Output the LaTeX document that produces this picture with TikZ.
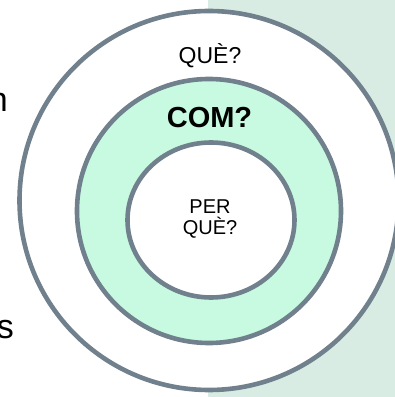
\documentclass[tikz,border=0pt]{standalone}
\usepackage{fontspec}
\setmainfont{Liberation Sans}
\definecolor{ringgray}{RGB}{112,128,140}
\definecolor{mint}{RGB}{200,250,226}
\definecolor{backg}{RGB}{217,236,228}
\begin{document}
\begin{tikzpicture}[x=1pt,y=1pt,
		ring/.style={draw=ringgray,line width=4.6pt},
		txt/.style={inner sep=0pt,anchor=base}]
		\useasboundingbox (0,0) rectangle (395,397);
		\clip (0,0) rectangle (395,397);
		% Hintergrund
		\fill[backg] (208,0) rectangle (395,397);
		% Ringe
		\draw[ring,fill=white] (209,196.5) circle (189.5);
		\draw[ring,fill=mint] (209,186) circle (132);
		\draw[ring,fill=white] (211,177) ellipse (83.5 and 77.5);
		% Beschriftung
		\node[txt,font=\fontsize{23}{23}\selectfont] (que) at (210,333) {QUÈ?};
		\node[txt,font=\fontsize{29}{29}\selectfont\bfseries] (com) at (209.5,269) {COM?};
		\node[inner sep=0pt,align=center,font=\fontsize{20}{21}\selectfont] (perque) at (210,178) {PER\\QUÈ?};
		% Reste links
		\node[txt,anchor=base east,font=\fontsize{34}{34}\selectfont] (restn) at (8,285) {n};
		\node[txt,anchor=base east,font=\fontsize{34}{34}\selectfont] (rests) at (14,59) {s};
	\end{tikzpicture}
\end{document}
